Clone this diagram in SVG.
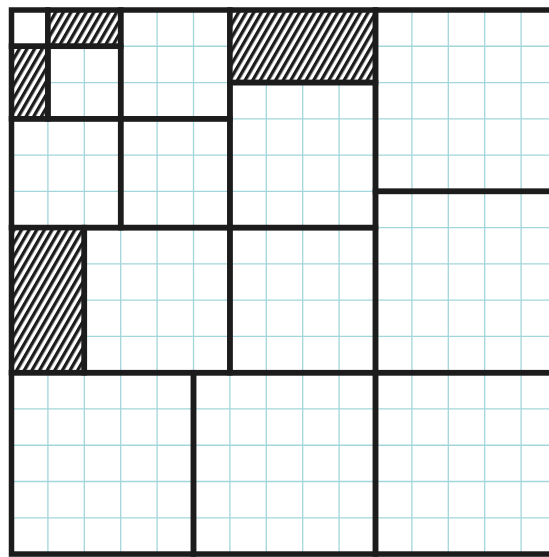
<svg xmlns="http://www.w3.org/2000/svg" width="549" height="557" viewBox="0 0 549 557">
  <style>
    .g { stroke: #a3d6da; stroke-width: 1.3; fill: none; }
    .box { fill: none; stroke: #1c1c1c; stroke-width: 5.5; }
    .hatch { fill: url(#hatch); stroke: #1c1c1c; stroke-width: 5.5; }
  </style>
  <defs>
    <pattern id="hatch" patternUnits="userSpaceOnUse" width="6.6" height="20" patternTransform="rotate(30)">
      <rect x="0" y="0" width="6.6" height="20" fill="#ffffff"/>
      <rect x="0" y="0" width="3.3" height="20" fill="#1c1c1c"/>
    </pattern>
  </defs>
  <rect x="0" y="0" width="549" height="557" fill="#ffffff"/>
  <g id="grid">
    <path class="g" d="M47.9 10V554 M84.3 10V554 M120.7 10V554 M157.1 10V554 M193.5 10V554 M229.9 10V554 M266.3 10V554 M302.7 10V554 M339.1 10V554 M375.5 10V554 M411.9 10V554 M448.3 10V554 M484.7 10V554 M521.1 10V554"/>
    <path class="g" d="M11.5 46.27H549 M11.5 82.54H549 M11.5 118.81H549 M11.5 155.08H549 M11.5 191.35H549 M11.5 227.62H549 M11.5 263.89H549 M11.5 300.16H549 M11.5 336.43H549 M11.5 372.7H549 M11.5 408.97H549 M11.5 445.24H549 M11.5 481.51H549 M11.5 517.78H549"/>
  </g>
  <g id="A"><rect class="box" x="11.5" y="10" width="36.4" height="36.27" fill="#ffffff" style="fill:#ffffff"/></g>
  <g id="B"><rect class="hatch" x="47.9" y="10" width="72.8" height="36.27"/></g>
  <g id="C"><rect class="hatch" x="11.5" y="46.27" width="36.4" height="72.54"/></g>
  <g id="D"><rect class="box" x="47.9" y="46.27" width="72.8" height="72.54"/></g>
  <g id="E"><rect class="box" x="120.7" y="10" width="109.2" height="108.81"/></g>
  <g id="F"><rect class="box" x="11.5" y="118.81" width="109.2" height="108.81"/></g>
  <g id="G"><rect class="box" x="120.7" y="118.81" width="109.2" height="108.81"/></g>
  <g id="H"><rect class="hatch" x="229.9" y="10" width="145.6" height="72.54"/></g>
  <g id="I"><rect class="box" x="229.9" y="82.54" width="145.6" height="145.08"/></g>
  <g id="J"><rect class="hatch" x="11.5" y="227.62" width="72.8" height="145.08"/></g>
  <g id="K"><rect class="box" x="84.3" y="227.62" width="145.6" height="145.08"/></g>
  <g id="L"><rect class="box" x="229.9" y="227.62" width="145.6" height="145.08"/></g>
  <g id="M"><rect class="box" x="375.5" y="10" width="182" height="181.35"/></g>
  <g id="N"><rect class="box" x="375.5" y="191.35" width="182" height="181.35"/></g>
  <g id="O"><rect class="box" x="11.5" y="372.7" width="182" height="181.35"/></g>
  <g id="P"><rect class="box" x="193.5" y="372.7" width="182" height="181.35"/></g>
  <g id="Q"><rect class="box" x="375.5" y="372.7" width="182" height="181.35"/></g>
  <g id="connectors"></g>
</svg>
